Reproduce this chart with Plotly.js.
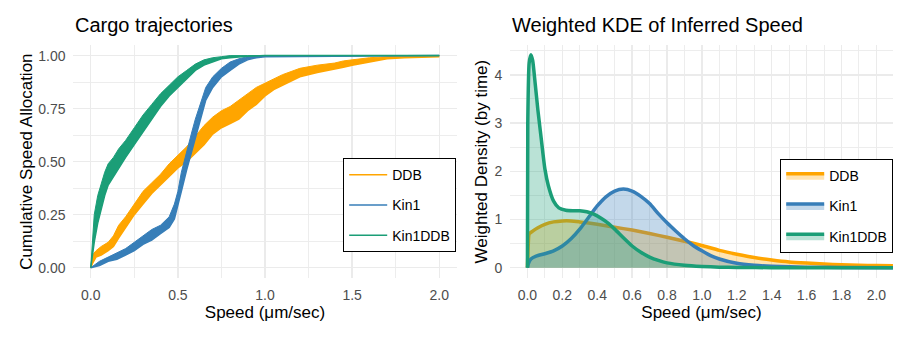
<!DOCTYPE html>
<html>
<head>
<meta charset="utf-8">
<script src="https://cdn.plot.ly/plotly-3.0.1.min.js"></script>
<style>
html, body { margin: 0; padding: 0; background: #fff; }
#chart { width: 911px; height: 342px; }
</style>
</head>
<body>
<div id="chart"></div>
<script>
// ---- left panel: cumulative speed allocation, band of trajectories (lower / upper edge)
var groups = ['DDB', 'Kin1', 'Kin1DDB'];
var colors = ['#FFA500', '#377EB8', '#1B9E77'];
var fills = ['rgba(255,165,0,0.3)', 'rgba(55,126,184,0.3)', 'rgba(27,158,119,0.3)'];

var ddbSpeed = [0, 0.01, 0.03, 0.06, 0.1, 0.13, 0.16, 0.2, 0.25, 0.3, 0.35, 0.4, 0.45, 0.5, 0.55, 0.6, 0.65, 0.7, 0.75, 0.8, 0.85, 0.9, 0.95, 1.0, 1.05, 1.1, 1.2, 1.3, 1.4, 1.45, 1.5, 1.6, 1.7, 1.8, 2.0];
var ddbLower = [0, 0.02, 0.05, 0.06, 0.08, 0.10, 0.14, 0.19, 0.25, 0.30, 0.35, 0.39, 0.43, 0.47, 0.50, 0.54, 0.58, 0.63, 0.66, 0.68, 0.70, 0.74, 0.77, 0.81, 0.84, 0.86, 0.90, 0.92, 0.935, 0.945, 0.955, 0.97, 0.985, 0.99, 0.995];
var ddbUpper = [0, 0.06, 0.08, 0.10, 0.12, 0.15, 0.20, 0.24, 0.30, 0.36, 0.40, 0.44, 0.49, 0.53, 0.57, 0.62, 0.67, 0.71, 0.74, 0.76, 0.79, 0.82, 0.85, 0.87, 0.89, 0.91, 0.94, 0.955, 0.965, 0.975, 0.98, 0.99, 0.995, 0.998, 1.0];

var kinSpeed = [0, 0.05, 0.1, 0.15, 0.2, 0.25, 0.3, 0.35, 0.4, 0.45, 0.48, 0.5, 0.52, 0.55, 0.58, 0.6, 0.63, 0.66, 0.7, 0.75, 0.8, 0.85, 0.9, 0.95, 1.0, 2.0];
var kinLower = [0, 0.01, 0.03, 0.04, 0.06, 0.08, 0.11, 0.13, 0.16, 0.19, 0.23, 0.29, 0.36, 0.46, 0.55, 0.62, 0.71, 0.79, 0.85, 0.90, 0.93, 0.96, 0.98, 0.99, 0.995, 1.0];
var kinUpper = [0, 0.03, 0.05, 0.07, 0.09, 0.12, 0.15, 0.18, 0.20, 0.24, 0.30, 0.36, 0.45, 0.55, 0.64, 0.70, 0.78, 0.85, 0.90, 0.94, 0.97, 0.985, 0.995, 1.0, 1.0, 1.0];

var kddbSpeed = [0, 0.01, 0.02, 0.04, 0.06, 0.08, 0.1, 0.13, 0.16, 0.2, 0.25, 0.3, 0.35, 0.4, 0.45, 0.5, 0.55, 0.6, 0.65, 0.7, 0.75, 0.8, 0.9, 1.0, 2.0];
var kddbLower = [0, 0.06, 0.12, 0.21, 0.28, 0.34, 0.39, 0.43, 0.47, 0.52, 0.58, 0.64, 0.70, 0.76, 0.81, 0.85, 0.89, 0.93, 0.955, 0.97, 0.985, 0.99, 0.997, 1, 1];
var kddbUpper = [0, 0.14, 0.25, 0.34, 0.40, 0.45, 0.49, 0.52, 0.56, 0.60, 0.66, 0.72, 0.77, 0.82, 0.86, 0.90, 0.93, 0.96, 0.98, 0.99, 0.995, 1, 1, 1, 1];

// ---- right panel: weighted KDE of inferred speed
var ddbKdeX = [0, 0.005, 0.01, 0.03, 0.06, 0.1, 0.15, 0.2, 0.25, 0.3, 0.4, 0.5, 0.6, 0.7, 0.8, 0.9, 1.0, 1.1, 1.2, 1.3, 1.4, 1.5, 1.6, 1.7, 1.8, 1.9, 2.0, 2.1];
var ddbKdeY = [0, 0.5, 0.70, 0.76, 0.83, 0.90, 0.95, 0.97, 0.97, 0.95, 0.90, 0.84, 0.78, 0.71, 0.63, 0.55, 0.46, 0.36, 0.28, 0.21, 0.16, 0.12, 0.095, 0.075, 0.06, 0.05, 0.045, 0.04];

var kinKdeX = [0, 0.005, 0.02, 0.05, 0.1, 0.15, 0.2, 0.25, 0.3, 0.35, 0.4, 0.45, 0.5, 0.55, 0.6, 0.65, 0.7, 0.75, 0.8, 0.85, 0.9, 0.95, 1.0, 1.05, 1.1, 1.2, 1.3, 1.4, 1.6, 1.8, 2.1];
var kinKdeY = [0, 0.08, 0.18, 0.24, 0.29, 0.35, 0.45, 0.60, 0.80, 1.04, 1.28, 1.47, 1.59, 1.63, 1.59, 1.48, 1.33, 1.12, 0.93, 0.76, 0.60, 0.46, 0.35, 0.25, 0.18, 0.09, 0.05, 0.03, 0.01, 0.005, 0];

var kddbKdeX = [0, 0.002, 0.01, 0.02, 0.03, 0.045, 0.06, 0.08, 0.1, 0.12, 0.15, 0.18, 0.22, 0.26, 0.3, 0.34, 0.38, 0.42, 0.46, 0.5, 0.55, 0.6, 0.65, 0.7, 0.75, 0.8, 0.9, 1.0, 1.1, 1.2, 1.4, 2.1];
var kddbKdeY = [0, 3.0, 4.25, 4.42, 4.3, 3.8, 3.27, 2.65, 2.05, 1.70, 1.38, 1.24, 1.19, 1.18, 1.18, 1.16, 1.11, 1.03, 0.93, 0.80, 0.62, 0.45, 0.32, 0.22, 0.15, 0.10, 0.05, 0.025, 0.01, 0.005, 0, 0];

var cdfX = [ddbSpeed, kinSpeed, kddbSpeed];
var cdfLo = [ddbLower, kinLower, kddbLower];
var cdfHi = [ddbUpper, kinUpper, kddbUpper];
var kdeX = [ddbKdeX, kinKdeX, kddbKdeX];
var kdeY = [ddbKdeY, kinKdeY, kddbKdeY];

var font = '"Liberation Sans", Arial, Helvetica, sans-serif';
var traces = [];

for (var i = 0; i < groups.length; i++) {
	traces.push({
		x: cdfX[i], y: cdfLo[i], type: 'scatter', mode: 'lines',
		name: groups[i], legendgroup: 'a' + i, legend: 'legend',
		line: { color: colors[i], width: 1.5 },
		xaxis: 'x', yaxis: 'y', hoverinfo: 'skip'
	});
	traces.push({
		x: cdfX[i], y: cdfHi[i], type: 'scatter', mode: 'lines',
		name: groups[i], legendgroup: 'a' + i, showlegend: false,
		fill: 'tonexty', fillcolor: colors[i],
		line: { color: colors[i], width: 1 },
		xaxis: 'x', yaxis: 'y', hoverinfo: 'skip'
	});
}

for (var j = 0; j < groups.length; j++) {
	traces.push({
		x: kdeX[j], y: kdeY[j], type: 'scatter', mode: 'lines',
		name: groups[j], legendgroup: 'b' + j, legend: 'legend2',
		fill: 'tozeroy', fillcolor: fills[j],
		line: { color: colors[j], width: 3.5, shape: 'spline', smoothing: 0.6 },
		xaxis: 'x2', yaxis: 'y2', hoverinfo: 'skip'
	});
}

var gridMajor = '#EBEBEB';
var tickFont = { family: font, size: 14, color: '#4D4D4D' };
var axisTitleFont = { family: font, size: 17, color: '#000' };

function axisBase() {
	return {
		showline: false, zeroline: false,
		showgrid: true, gridcolor: gridMajor, gridwidth: 1.3,
		ticks: 'outside', ticklen: 4, tickcolor: 'rgba(0,0,0,0)',
		tickfont: tickFont, automargin: false
	};
}

var xa = axisBase();
xa.domain = [0.0805, 0.5013];
xa.range = [-0.1, 2.1];
xa.tickvals = [0, 0.5, 1, 1.5, 2];
xa.tickformat = '.1f';
xa.minor = { tickvals: [0.25, 0.75, 1.25, 1.75], showgrid: true, gridcolor: gridMajor, gridwidth: 0.9 };
xa.title = { text: 'Speed (μm/sec)', font: axisTitleFont, standoff: 4 };
xa.anchor = 'y';

var ya = axisBase();
ya.domain = [0.1863, 0.8684];
ya.range = [-0.05, 1.05];
ya.tickvals = [0, 0.25, 0.5, 0.75, 1];
ya.tickformat = '.2f';
ya.minor = { tickvals: [0.125, 0.375, 0.625, 0.875], showgrid: true, gridcolor: gridMajor, gridwidth: 0.9 };
ya.title = { text: 'Cumulative Speed Allocation', font: axisTitleFont, standoff: 1 };
ya.anchor = 'x';

var xb = axisBase();
xb.domain = [0.5598, 0.9802];
xb.range = [-0.1, 2.095];
xb.tick0 = 0;
xb.dtick = 0.2;
xb.tickformat = '.1f';
xb.minor = { dtick: 0.1, tick0: 0, showgrid: true, gridcolor: gridMajor, gridwidth: 0.9 };
xb.title = { text: 'Speed (μm/sec)', font: axisTitleFont, standoff: 4 };
xb.anchor = 'y2';

var yb = axisBase();
yb.domain = [0.1863, 0.8684];
yb.range = [-0.22, 4.62];
yb.tick0 = 0;
yb.dtick = 1;
yb.minor = { dtick: 0.5, tick0: 0, showgrid: true, gridcolor: gridMajor, gridwidth: 0.9 };
yb.title = { text: 'Weighted Density (by time)', font: axisTitleFont, standoff: 2 };
yb.anchor = 'x2';

function legendBox(x, y) {
	return {
		x: x, y: y, xanchor: 'left', yanchor: 'top',
		bgcolor: '#fff', bordercolor: '#000', borderwidth: 1.2,
		font: { family: font, size: 14, color: '#000' },
		tracegroupgap: 9, itemwidth: 38
	};
}

var layout = {
	width: 911, height: 342,
	margin: { l: 0, r: 0, t: 0, b: 0 },
	paper_bgcolor: '#fff', plot_bgcolor: '#fff',
	font: { family: font },
	showlegend: true,
	xaxis: xa, yaxis: ya, xaxis2: xb, yaxis2: yb,
	legend: legendBox(0.3765, 0.538),
	legend2: legendBox(0.8562, 0.535),
	annotations: [
		{ text: 'Cargo trajectories', xref: 'paper', yref: 'paper', x: 0.0805, y: 0.927,
		  xanchor: 'left', yanchor: 'middle', showarrow: false, font: { family: font, size: 20, color: '#000' } },
		{ text: 'Weighted KDE of Inferred Speed', xref: 'paper', yref: 'paper', x: 0.5598, y: 0.927,
		  xanchor: 'left', yanchor: 'middle', showarrow: false, font: { family: font, size: 20, color: '#000' } }
	]
};

Plotly.newPlot('chart', traces, layout, { displayModeBar: false, staticPlot: true });
</script>
</body>
</html>
